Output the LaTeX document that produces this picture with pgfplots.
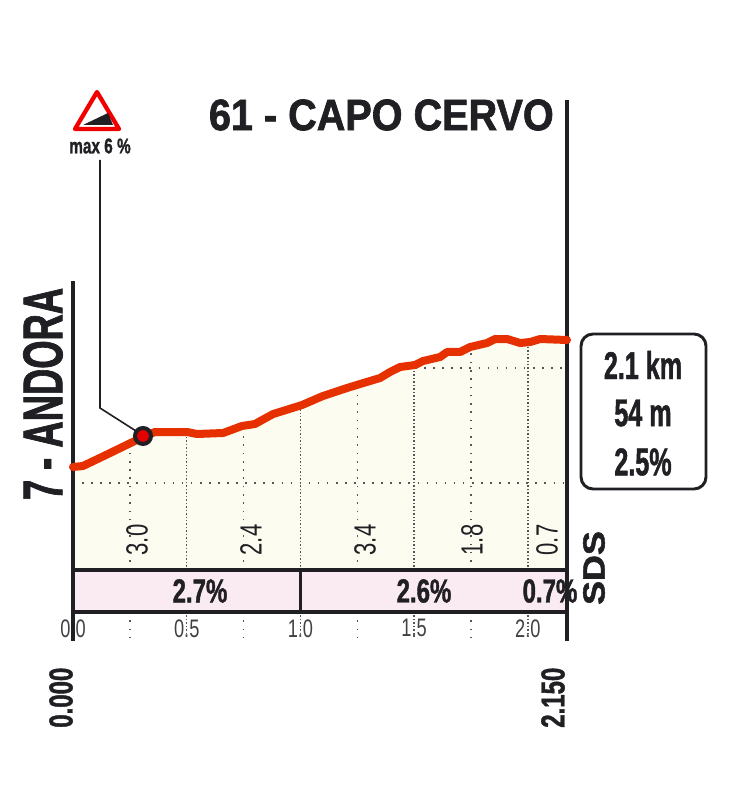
\documentclass[border=0pt]{standalone}
\usepackage{graphicx}
\usepackage{fontspec}
\usepackage{pgfplots}
\pgfplotsset{compat=1.18}
\setmainfont{Liberation Sans}
\newfontfamily\fa[FakeStretch=0.65,BoldFeatures={FakeBold=1.2}]{Liberation Sans}
\newfontfamily\fb[FakeStretch=0.72,BoldFeatures={FakeBold=1.2}]{Liberation Sans}
\newfontfamily\fc[FakeStretch=0.9,BoldFeatures={FakeBold=1.5}]{Liberation Sans}
\newcommand\fs[1]{\fontsize{#1}{#1}\selectfont}
\definecolor{ink}{HTML}{202024}
\definecolor{prof}{HTML}{E63000}
\definecolor{cream}{HTML}{FCFCF0}
\definecolor{band}{HTML}{FAEBF2}
\definecolor{dots}{HTML}{55555A}
\begin{document}
\begin{tikzpicture}
\useasboundingbox (-54.75pt,-135pt) rectangle (491.25pt,459pt);
\begin{axis}[
  at={(0pt,0pt)},anchor=south west,scale only axis,
  width=370.5pt,height=384pt,
  xmin=0,xmax=2.172,ymin=-56.09,ymax=166.52,
  clip=false,axis line style={draw=none},
  major tick length=0pt,ytick=\empty,
  xtick={0,0.5,1,1.5,2},
  xticklabels={0.0,0.5,1.0,1.5,2.0},
  xticklabel style={font=\fb\fs{19},text=ink!85,yshift=-2pt},
]
% area under the profile
\addplot[draw=none,fill=cream] coordinates {
(0,-37.83)(0,6.96)(0.044,7.39)(0.163,13.04)(0.308,20)(0.36,22.17)(0.501,22.17)(0.545,21.3)(0.66,21.74)
(0.743,24.78)(0.80,25.65)(0.88,30)(1.007,33.9)(1.099,37.83)(1.205,41.3)(1.262,43.04)(1.35,45.65)
(1.394,48.26)(1.438,50.43)(1.504,51.3)(1.539,53.04)(1.614,54.78)(1.645,56.96)(1.702,56.96)
(1.746,59.13)(1.821,60.87)(1.856,62.6)(1.909,62.6)(1.966,60.87)(2.01,61.3)(2.054,62.6)(2.172,62.17)
(2.172,-37.83)} -- cycle;
% gradient band
\addplot[draw=none,fill=band] coordinates {(0,-56.09)(0,-37.83)(2.172,-37.83)(2.172,-56.09)} -- cycle;
% horizontal dotted levels
\addplot[dots,line width=1.2pt,dash pattern=on 1.2pt off 5.6pt] coordinates {(0,0)(2.172,0)};
\addplot[dots,line width=1.2pt,dash pattern=on 1.2pt off 5.6pt] coordinates {(1.504,50)(2.172,50)};
% vertical dotted grid
\foreach \x/\y in {0.5/22.2,1/33.7,1.5/51.2,2/61.3}{
  \edef\tmp{\noexpand\addplot[dots,line width=1.1pt,dash pattern=on 1.1pt off 1.5pt] coordinates {(\x,-37.83)(\x,\y)};
  \noexpand\addplot[dots,line width=1.1pt,dash pattern=on 1.1pt off 1.5pt] coordinates {(\x,-56.09)(\x,-67)};}\tmp
}
\foreach \x/\y in {0.25/17.5,0.75/25,1.25/42.3,1.75/59.3}{
  \edef\tmp{\noexpand\addplot[dots,line width=1.1pt,dash pattern=on 1.2pt off 5pt] coordinates {(\x,-37.83)(\x,\y)};
  \noexpand\addplot[dots,line width=1.1pt,dash pattern=on 1.2pt off 5pt] coordinates {(\x,-56.09)(\x,-67)};}\tmp
}
% frame
\addplot[ink,line width=2.4pt] coordinates {(0,-37.83)(2.172,-37.83)};
\addplot[ink,line width=2.4pt] coordinates {(0,-56.09)(2.172,-56.09)};
\addplot[ink,line width=2.8pt] coordinates {(1.0,-37.83)(1.0,-56.09)};
\addplot[ink,line width=3.2pt] coordinates {(0,-68.5)(0,88)};
\addplot[ink,line width=3.2pt] coordinates {(2.172,-68.5)(2.172,166.52)};
% profile
\addplot[prof,line width=6pt,line join=round,line cap=round] coordinates {
(0,6.96)(0.044,7.39)(0.163,13.04)(0.308,20)(0.36,22.17)(0.501,22.17)(0.545,21.3)(0.66,21.74)
(0.743,24.78)(0.80,25.65)(0.88,30)(1.007,33.9)(1.099,37.83)(1.205,41.3)(1.262,43.04)(1.35,45.65)
(1.394,48.26)(1.438,50.43)(1.504,51.3)(1.539,53.04)(1.614,54.78)(1.645,56.96)(1.702,56.96)
(1.746,59.13)(1.821,60.87)(1.856,62.6)(1.909,62.6)(1.966,60.87)(2.01,61.3)(2.054,62.6)(2.172,62.17)};
\end{axis}
\begin{scope}[shift={(-54.75pt,459pt)},x=0.75pt,y=-0.75pt,text=ink]
% leader and max-gradient marker
\draw[ink,line width=1.2pt] (100,160)--(100,408)--(136,431);
\draw[ink,line width=3pt,fill=red!90!black] (143,436) circle (8);
\draw[red!95!black,line width=3.2pt,line join=round,fill=white] (97,92)--(75,129)--(119,129)--cycle;
\fill[ink] (83,125)--(108,113)--(113,125)--cycle;
\node[inner sep=0,font=\fb\bfseries\fs{16}] at (100,146) {max 6 \%};
% titles
\node[inner sep=0,anchor=east,font=\fc\bfseries\fs{33}] at (554,115) {61 - CAPO CERVO};
\node[inner sep=0,rotate=90,font=\fa\bfseries\fs{42}] at (43,394) {7 - ANDORA};
% gradient labels
\foreach \px/\t in {137/3.0,251/2.4,365/3.4,472/1.8,547/0.7}{
  \node[inner sep=0,rotate=90,font=\fb\fs{23}] at (\px,540) {\t};
}
\node[inner sep=1pt,fill=band,font=\fb\bfseries\fs{25}] at (200,591) {2.7\%};
\node[inner sep=1pt,fill=band,font=\fb\bfseries\fs{25}] at (424,591) {2.6\%};
\node[inner sep=1pt,font=\fb\bfseries\fs{25}] at (550,591) {0.7\%};
\node[inner sep=0,rotate=90,font=\fc\bfseries\fs{23}] at (594,568) {\scalebox{1.3}[1]{SDS}};
% km labels
\node[inner sep=0,rotate=90,anchor=west,font=\fb\bfseries\fs{25}] at (61,728) {0.000};
\node[inner sep=0,rotate=90,anchor=west,font=\fb\bfseries\fs{25}] at (553,728) {2.150};
% summary box
\draw[ink,line width=2.2pt,rounded corners=9pt,fill=white] (581,334) rectangle (706,489);
\node[inner sep=0,font=\fa\bfseries\fs{29}] at (643,365) {2.1 km};
\node[inner sep=0,font=\fa\bfseries\fs{29}] at (643,413) {54 m};
\node[inner sep=0,font=\fa\bfseries\fs{29}] at (643,462) {2.5\%};
\end{scope}
\end{tikzpicture}
\end{document}
